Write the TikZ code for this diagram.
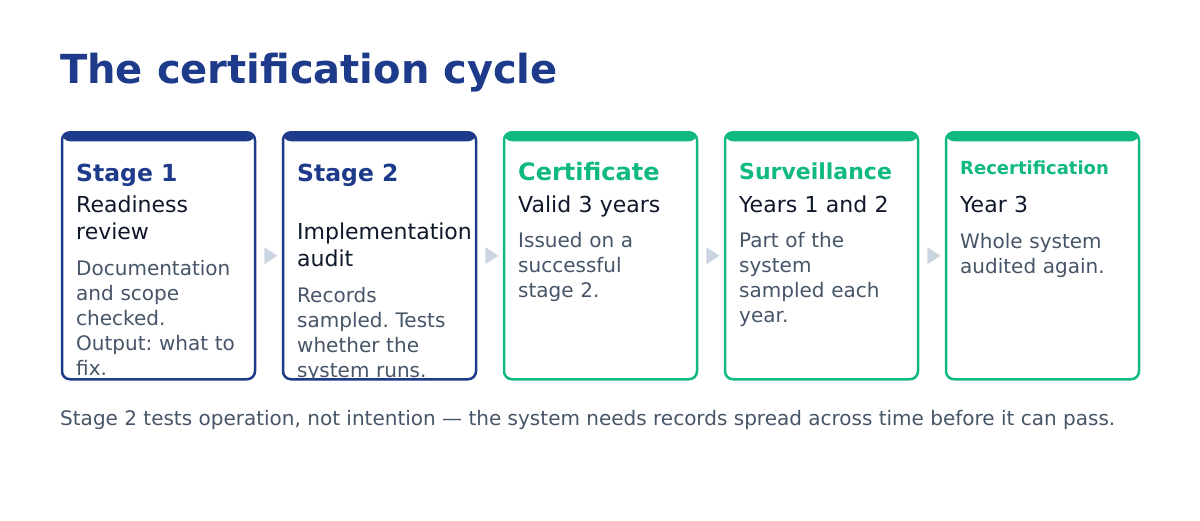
\documentclass[tikz,border=0pt]{standalone}
\usepackage{fontspec}
\setmainfont{DejaVu Sans}
\usepackage{xcolor}
\usetikzlibrary{positioning,shapes.geometric,calc}
\frenchspacing

\definecolor{navy}{HTML}{1E3A8A}
\definecolor{mint}{HTML}{10B981}
\definecolor{slate}{HTML}{475569}
\definecolor{ink}{HTML}{0F172A}
\definecolor{arrowgray}{HTML}{CBD5E1}

\tikzset{
  stagebox/.style={draw=#1, fill=white, line width=2.5pt, rounded corners=8pt,
    minimum width=193pt, minimum height=247pt, inner sep=0pt, outer sep=0pt,
    path picture={\fill[#1] (path picture bounding box.north west)
      rectangle ([yshift=-9pt]path picture bounding box.north east);}},
  stagehead/.style={anchor=base west, inner sep=0pt, text=#1,
    font=\bfseries\fontsize{23.5pt}{28pt}\selectfont},
  stagesub/.style={anchor=base west, inner sep=0pt, text=ink, align=left,
    text width=185pt, font=\fontsize{22pt}{27pt}\selectfont},
  stagebody/.style={anchor=base west, inner sep=0pt, text=slate, align=left,
    text width=185pt, font=\fontsize{20pt}{25pt}\selectfont},
  passmark/.style={isosceles triangle, isosceles triangle stretches,
    minimum width=17pt, minimum height=13pt, inner sep=0pt, fill=arrowgray}
}

\begin{document}
\begin{tikzpicture}[x=1pt,y=-1pt]
    \useasboundingbox (0,0) rectangle (1200,520);

    \node[anchor=base west, inner sep=0pt, text=navy,
      font=\bfseries\fontsize{40pt}{48pt}\selectfont] (heading) at (60,83) {The certification cycle};

    % the five stages
    \node[stagebox=navy] (s1) at (158.5,255.75) {};
    \node[stagebox=navy] (s2) at (379.5,255.75) {};
    \node[stagebox=mint] (s3) at (600.5,255.75) {};
    \node[stagebox=mint] (s4) at (821.5,255.75) {};
    \node[stagebox=mint] (s5) at (1042.5,255.75) {};

    \node[passmark] (p1) at ($(s1.east)!0.5!(s2.west)$) {};
    \node[passmark] (p2) at ($(s2.east)!0.5!(s3.west)$) {};
    \node[passmark] (p3) at ($(s3.east)!0.5!(s4.west)$) {};
    \node[passmark] (p4) at ($(s4.east)!0.5!(s5.west)$) {};

    \begin{scope}
      \clip ([yshift=1.25pt]s1.south west) rectangle (s1.north east);
      \node[stagehead=navy] (h1) at (76,181) {Stage 1};
      \node[stagesub] (t1) at (76,212) {Readiness\\review};
      \node[stagebody] (b1) at (76,275) {Documentation\\and scope\\checked.\\Output: what to\\fix.};
    \end{scope}

    \begin{scope}
      \clip ([yshift=1.25pt]s2.south west) rectangle (s2.north east);
      \node[stagehead=navy] (h2) at (297,181) {Stage 2};
      \node[stagesub] (t2) at (297,239) {Implementation\\audit};
      \node[stagebody] (b2) at (297,302) {Records\\sampled. Tests\\whether the\\system runs.};
    \end{scope}

    \node[stagehead=mint, font=\bfseries\fontsize{24pt}{28pt}\selectfont] (h3) at (518,180) {Certificate};
    \node[stagesub] (t3) at (518,212) {Valid 3 years};
    \node[stagebody] (b3) at (518,247) {Issued on a\\successful\\stage 2.};

    \node[stagehead=mint, font=\bfseries\fontsize{22pt}{27pt}\selectfont] (h4) at (739,179) {Surveillance};
    \node[stagesub] (t4) at (739,212) {Years 1 and 2};
    \node[stagebody] (b4) at (739,247) {Part of the\\system\\sampled each\\year.};

    \node[stagehead=mint, font=\bfseries\fontsize{18pt}{22pt}\selectfont] (h5) at (960,174) {Recertification};
    \node[stagesub] (t5) at (960,212) {Year 3};
    \node[stagebody] (b5) at (960,248) {Whole system\\audited again.};

    \node[anchor=base west, inner sep=0pt, text=slate,
      font=\fontsize{20pt}{24pt}\selectfont] (note) at (60,425)
      {Stage 2 tests operation, not intention — the system needs records spread across time before it can pass.};
\end{tikzpicture}
\end{document}
